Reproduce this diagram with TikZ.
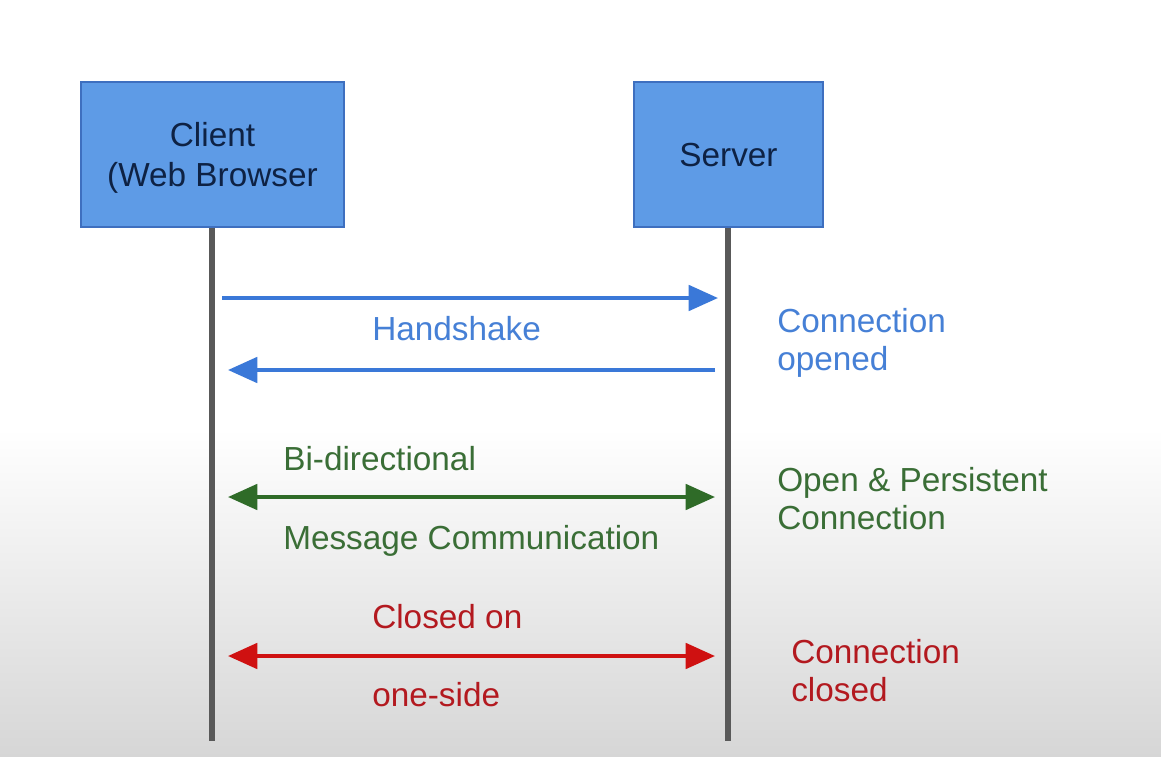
\documentclass[tikz,border=0pt]{standalone}
\usepackage{fontspec}
\setmainfont{Liberation Sans}
\usetikzlibrary{arrows.meta}
\definecolor{boxfill}{HTML}{5E9BE6}
\definecolor{boxline}{HTML}{3E6FBF}
\definecolor{boxtext}{HTML}{0E2244}
\definecolor{lifegray}{HTML}{595959}
\definecolor{myblue}{HTML}{3A78D8}
\definecolor{mybluetext}{HTML}{4680D6}
\definecolor{mygreen}{HTML}{2F6B28}
\definecolor{mygreentext}{HTML}{3A6E36}
\definecolor{myred}{HTML}{CF1111}
\definecolor{myredtext}{HTML}{B3191F}
\definecolor{bggray}{HTML}{D6D6D6}
\tikzset{
  actor/.style={draw=boxline, line width=1pt, fill=boxfill, text=boxtext, align=center,
    font=\fontsize{25}{30}\selectfont, inner sep=0pt, text depth=0pt},
  lifeline/.style={draw=lifegray, line width=4.5pt},
  msg/.style={line width=3pt, -{Triangle[length=22pt,width=19pt]}},
  bimsg/.style={line width=3pt, {Triangle[length=22pt,width=19pt]}-{Triangle[length=22pt,width=19pt]}},
  lbl/.style={font=\fontsize{25}{28.5}\selectfont, inner sep=0pt, align=left, anchor=base west},
}
\begin{document}
\begin{tikzpicture}[x=0.75pt,y=-0.75pt]
\useasboundingbox (0,0) rectangle (1161,757);
\fill[white] (0,0) rectangle (1161,430);
\shade[top color=white, bottom color=bggray] (0,429) rectangle (1161,757);

\node[actor, minimum width=197.25pt, minimum height=108.75pt] (client) at (212.5,154.5) {Client\\(Web Browser};
\node[actor, minimum width=141.75pt, minimum height=108.75pt] (server) at (728.5,154.5) {Server};

\coordinate (cend) at (212,741);
\coordinate (send) at (728,741);
\draw[lifeline] (client.south -| cend) -- (cend);
\draw[lifeline] (server.south -| send) -- (send);

% handshake
\coordinate (h1a) at (222,298);
\coordinate (h1b) at (718,298);
\coordinate (h2a) at (715,370);
\coordinate (h2b) at (228,370);
\draw[msg, draw=myblue, fill=myblue] (h1a) -- (h1b);
\draw[msg, draw=myblue, fill=myblue] (h2a) -- (h2b);
\node[lbl, text=mybluetext] (hs) at (372,340) {Handshake};
\node[lbl, text=mybluetext] (co) at (777,370) {Connection\\opened};

% bidirectional
\coordinate (ba) at (228,497);
\coordinate (bb) at (715,497);
\draw[bimsg, draw=mygreen, fill=mygreen] (ba) -- (bb);
\node[lbl, text=mygreentext] (bd) at (283,470) {Bi-directional};
\node[lbl, text=mygreentext] (mc) at (283,549) {Message Communication};
\node[lbl, text=mygreentext] (op) at (777,529) {Open \& Persistent\\Connection};

% closed
\coordinate (ca) at (228,656);
\coordinate (cb) at (715,656);
\draw[bimsg, draw=myred, fill=myred] (ca) -- (cb);
\node[lbl, text=myredtext] (cl) at (372,628) {Closed on};
\node[lbl, text=myredtext] (os) at (372,706) {one-side};
\node[lbl, text=myredtext] (cc) at (791,701) {Connection\\closed};
\end{tikzpicture}
\end{document}
